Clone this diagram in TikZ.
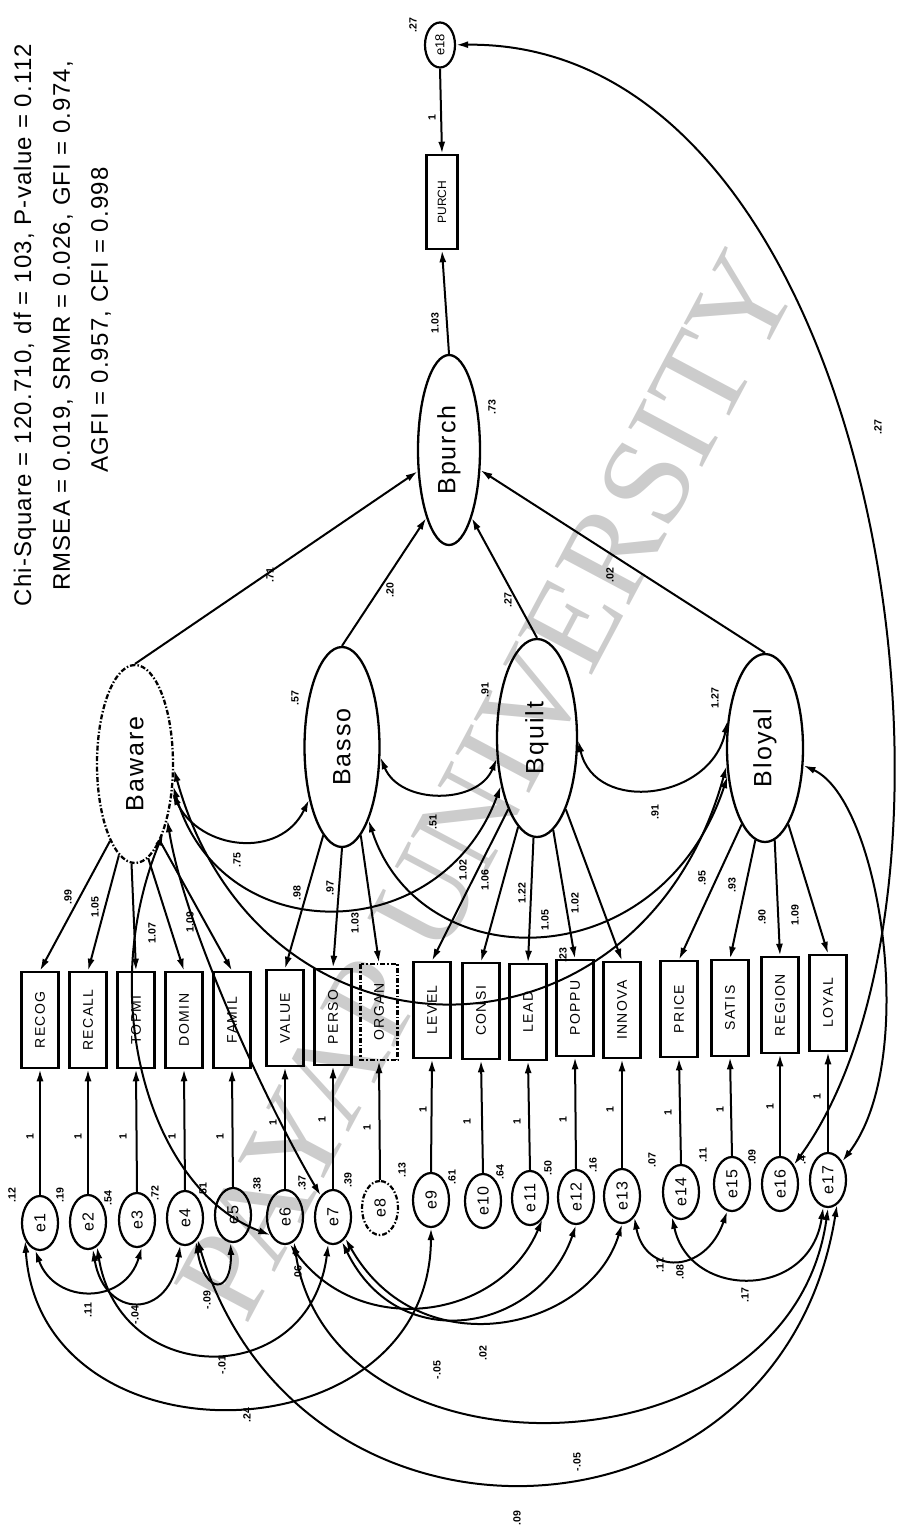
\documentclass[tikz,border=0pt]{standalone}
\usepackage{fontspec}
\setmainfont{Liberation Sans}
\newfontfamily\wmfont{Liberation Serif}
\usetikzlibrary{arrows.meta,shapes.geometric}
\tikzset{ah/.tip={Latex[length=12pt,width=7pt]}}
\begin{document}
\begin{tikzpicture}[x=1pt,y=-1pt,
  lat/.style={draw, ellipse, rotate=90, line width=2.3pt, inner sep=0pt, font=\fontsize{25}{25}\selectfont\addfontfeature{LetterSpace=8}},
  obs/.style={draw, rectangle, rotate=90, minimum width=96pt, minimum height=37pt, line width=2.5pt, inner sep=0pt, font=\fontsize{14}{14}\selectfont\addfontfeature{LetterSpace=10}},
  err/.style={draw, ellipse, rotate=90, minimum width=54pt, minimum height=36pt, line width=2.2pt, inner sep=0pt, font=\fontsize{16}{16}\selectfont\addfontfeature{LetterSpace=8}},
  brk/.style={dash pattern=on 5pt off 2pt on 1.5pt off 2pt},
  num/.style={rotate=90, inner sep=0pt, font=\bfseries\fontsize{10.5}{10.5}\selectfont},
  ttl/.style={rotate=90, inner sep=0pt, font=\fontsize{24}{24}\selectfont\addfontfeature{LetterSpace=5}},
  ld/.style={-ah, line width=2pt},
  cv/.style={ah-ah, line width=2pt},
]
\useasboundingbox (0,0) rectangle (903,1530);
% watermark
\node[rotate=62, text=black!20, inner sep=0pt, font=\wmfont\fontsize{128}{128}\selectfont] (wm) at (487,785) {PAYAP UNIVERSITY};
% title
\node[ttl] (t1) at (25,325) {Chi-Square = 120.710, df = 103, P-value = 0.112};
\node[ttl] (t2) at (63,326) {RMSEA = 0.019, SRMR = 0.026, GFI = 0.974,};
\node[ttl] (t3) at (101,320) {AGFI = 0.957, CFI = 0.998};
% latent variables
\node[lat, brk, minimum width=198pt, minimum height=76pt] (Baware) at (135,764) {Baware};
\node[lat, minimum width=200pt, minimum height=75pt] (Basso) at (342,747) {Basso};
\node[lat, minimum width=198pt, minimum height=80pt] (Bquilt) at (537,738) {Bquilt};
\node[lat, minimum width=188pt, minimum height=76pt] (Bloyal) at (765,748) {Bloyal};
\node[lat, minimum width=190pt, minimum height=62pt] (Bpurch) at (449,450) {Bpurch};
\node[obs, minimum width=94pt, minimum height=31pt, font=\fontsize{12}{12}\selectfont] (PURCH) at (442,202) {PURCH};
\node[err, minimum width=45pt, minimum height=30pt, font=\fontsize{13}{13}\selectfont] (e18) at (440,45) {e18};
% observed
\node[obs] (RECOG) at (40,1020) {RECOG};
\node[obs] (RECALL) at (88,1020) {RECALL};
\node[obs] (TOPI) at (136,1020) {TOPMI};
\node[obs] (DOMIN) at (184,1020) {DOMIN};
\node[obs] (FAMIL) at (232,1020) {FAMIL};
\node[obs] (VALUE) at (285,1018) {VALUE};
\node[obs] (PERSO) at (333,1017) {PERSO};
\node[obs, brk] (ORGAN) at (379,1012) {ORGAN};
\node[obs] (LEVEL) at (432,1010) {LEVEL};
\node[obs] (CONSI) at (481,1011) {CONSI};
\node[obs] (LEAD) at (528,1012) {LEAD};
\node[obs] (POPPU) at (575,1008) {POPPU};
\node[obs] (INNOVA) at (622,1010) {INNOVA};
\node[obs] (PRICE) at (679,1009) {PRICE};
\node[obs] (SATIS) at (730,1008) {SATIS};
\node[obs] (REGION) at (780,1005) {REGION};
\node[obs] (LOYAL) at (828,1003) {LOYAL};
% errors
\node[err] (e1) at (40,1223) {e1};
\node[err] (e2) at (88,1222) {e2};
\node[err] (e3) at (137,1220) {e3};
\node[err] (e4) at (185,1218) {e4};
\node[err] (e5) at (233,1215) {e5};
\node[err] (e6) at (285,1217) {e6};
\node[err] (e7) at (333,1217) {e7};
\node[err, brk] (e8) at (380,1208) {e8};
\node[err] (e9) at (431,1200) {e9};
\node[err] (e10) at (483,1201) {e10};
\node[err] (e11) at (530,1198) {e11};
\node[err] (e12) at (576,1197) {e12};
\node[err] (e13) at (622,1196) {e13};
\node[err] (e14) at (681,1192) {e14};
\node[err] (e15) at (732,1184) {e15};
\node[err] (e16) at (780,1184) {e16};
\node[err] (e17) at (828,1180) {e17};
% loadings
\foreach \r/\a in {RECOG/162,RECALL/170,TOPI/178,DOMIN/188,FAMIL/198} \draw[ld] (Baware.\a) -- (\r.east);
\foreach \r/\a in {VALUE/168,PERSO/180,ORGAN/192} \draw[ld] (Basso.\a) -- (\r.east);
\foreach \r/\a in {LEVEL/158,CONSI/168,LEAD/178,POPPU/190,INNOVA/202} \draw[ld] (Bquilt.\a) -- (\r.east);
\foreach \r/\a in {PRICE/163,SATIS/174,REGION/186,LOYAL/197} \draw[ld] (Bloyal.\a) -- (\r.east);
% error paths
\foreach \e/\r in {e1/RECOG,e2/RECALL,e3/TOPI,e4/DOMIN,e5/FAMIL,e6/VALUE,e7/PERSO,e8/ORGAN,e9/LEVEL,e10/CONSI,e11/LEAD,e12/POPPU,e13/INNOVA,e14/PRICE,e15/SATIS,e16/REGION,e17/LOYAL}
  \draw[ld] (\e.east) -- (\r.west);
% structural paths
\draw[ld] (Baware.east) -- (Bpurch);
\draw[ld] (Basso.east) -- (Bpurch.north west);
\draw[ld] (Bquilt.east) -- (Bpurch.south west);
\draw[ld] (Bloyal.east) -- (Bpurch);
\draw[ld] (Bpurch.east) -- (PURCH.west);
\draw[ld] (e18.west) -- (PURCH.east);
% latent covariances
\draw[cv] (Baware.-128) .. controls (200,850) and (280,860) .. (Basso.148);
\draw[cv] (Basso.-105) .. controls (400,805) and (478,805) .. (Bquilt.117);
\draw[cv] (Bquilt.-93) .. controls (595,815) and (712,800) .. (Bloyal.54);
\draw[cv] (Baware.-120) .. controls (220,950) and (440,950) .. (Bquilt.143);
\draw[cv] (Basso.-160) .. controls (420,980) and (660,980) .. (Bloyal.127);
\draw[cv] (Baware.-98) .. controls (260,1080) and (640,1080) .. (Bloyal.115);
\draw[cv] (Baware.-158) .. controls (95,1000) and (150,1190) .. (e6.141);
\draw[cv] (Baware.-150) .. controls (185,930) and (270,1110) .. (e7.30);
\draw[cv] (Bloyal) .. controls (880,800) and (920,1060) .. (e17);
\draw[cv] (e18) .. controls (880,40) and (1000,880) .. (e16);
% error covariances
\draw[cv] (e1.170) .. controls (55,1305) and (125,1305) .. (e3.190);
\draw[cv] (e2.190) .. controls (105,1320) and (170,1320) .. (e4.170);
\draw[cv] (e4.205) .. controls (205,1295) and (232,1295) .. (e5.175);
\draw[cv] (e2.200) .. controls (120,1390) and (310,1390) .. (e7.170);
\draw[cv] (e1.140) .. controls (40,1470) and (430,1460) .. (e9.180);
\draw[cv] (e4.210) .. controls (300,1580) and (780,1560) .. (e17.200);
\draw[cv] (e6.200) .. controls (330,1490) and (790,1480) .. (e17.180);
\draw[cv] (e6.190) .. controls (360,1340) and (500,1320) .. (e11.210);
\draw[cv] (e7.200) .. controls (400,1360) and (540,1330) .. (e12.180);
\draw[cv] (e7.210) .. controls (420,1370) and (590,1330) .. (e13.180);
\draw[cv] (e13.210) .. controls (645,1275) and (705,1275) .. (e15.170);
\draw[cv] (e14.160) .. controls (690,1300) and (810,1300) .. (e17.170);
% labels: error variances
\node[num] (v1) at (12,1195) {.12};
\node[num] (v2) at (60,1195) {.19};
\node[num] (v3) at (108,1198) {.54};
\node[num] (v4) at (155,1193) {.72};
\node[num] (v5) at (203,1190) {.51};
\node[num] (v6) at (257,1185) {.38};
\node[num] (v7) at (302,1183) {.37};
\node[num] (v8) at (348,1180) {.39};
\node[num] (v9) at (402,1170) {.13};
\node[num] (v10) at (452,1177) {.61};
\node[num] (v11) at (500,1172) {.64};
\node[num] (v12) at (548,1168) {.50};
\node[num] (v13) at (593,1165) {.16};
\node[num] (v14) at (652,1160) {.07};
\node[num] (v15) at (703,1155) {.11};
\node[num] (v16) at (752,1157) {.09};
\node[num] (v17) at (802,1160) {.4};
\node[num] (v18) at (413,25) {.27};
% labels: fixed paths
\foreach \n/\x/\y in {a1/30/1137,a2/78/1137,a3/123/1137,a4/172/1137,a5/220/1137,a6/273/1123,a7/322/1120,a8/367/1128,a9/423/1110,a10/467/1122,a11/517/1122,a12/563/1120,a13/610/1110,a14/668/1113,a15/720/1110,a16/770/1107,a17/817/1097,a18/432/118}
  \node[num] (\n) at (\x,\y) {1};
% labels: loadings
\node[num] (l1) at (68,897) {.99};
\node[num] (l2) at (95,907) {1.05};
\node[num] (l3) at (152,933) {1.07};
\node[num] (l4) at (190,922) {1.09};
\node[num] (l6) at (297,893) {.98};
\node[num] (l7) at (330,888) {.97};
\node[num] (l8) at (355,923) {1.03};
\node[num] (l9) at (463,870) {1.02};
\node[num] (l10) at (485,880) {1.06};
\node[num] (l11) at (522,893) {1.22};
\node[num] (l12) at (545,920) {1.05};
\node[num] (l13) at (575,903) {1.02};
\node[num] (l14) at (702,878) {.95};
\node[num] (l15) at (732,885) {.93};
\node[num] (l16) at (762,917) {.90};
\node[num] (l17) at (795,915) {1.09};
% labels: latent variances and structural paths
\node[num] (r2) at (295,698) {.57};
\node[num] (r3) at (485,690) {.91};
\node[num] (r4) at (715,698) {1.27};
\node[num] (r5) at (492,407) {.73};
\node[num] (p1) at (270,575) {.71};
\node[num] (p2) at (390,590) {.20};
\node[num] (p3) at (508,600) {.27};
\node[num] (p4) at (610,575) {.02};
\node[num] (p5) at (435,323) {1.03};
% labels: covariances
\node[num] (c1) at (237,860) {.75};
\node[num] (c2) at (433,822) {.51};
\node[num] (c3) at (655,812) {.91};
\node[num] (c4) at (563,955) {.23};
\node[num] (c5) at (878,427) {.27};
\node[num] (k1) at (88,1310) {.11};
\node[num] (k2) at (135,1315) {-.04};
\node[num] (k3) at (207,1300) {-.09};
\node[num] (k4) at (222,1365) {-.01};
\node[num] (k5) at (247,1415) {.24};
\node[num] (k6) at (298,1273) {.06};
\node[num] (k7) at (437,1370) {-.05};
\node[num] (k8) at (483,1353) {.02};
\node[num] (k9) at (577,1462) {-.05};
\node[num] (k10) at (517,1518) {.09};
\node[num] (k11) at (660,1265) {.11};
\node[num] (k12) at (680,1272) {.08};
\node[num] (k13) at (745,1295) {.17};
\end{tikzpicture}
\end{document}
